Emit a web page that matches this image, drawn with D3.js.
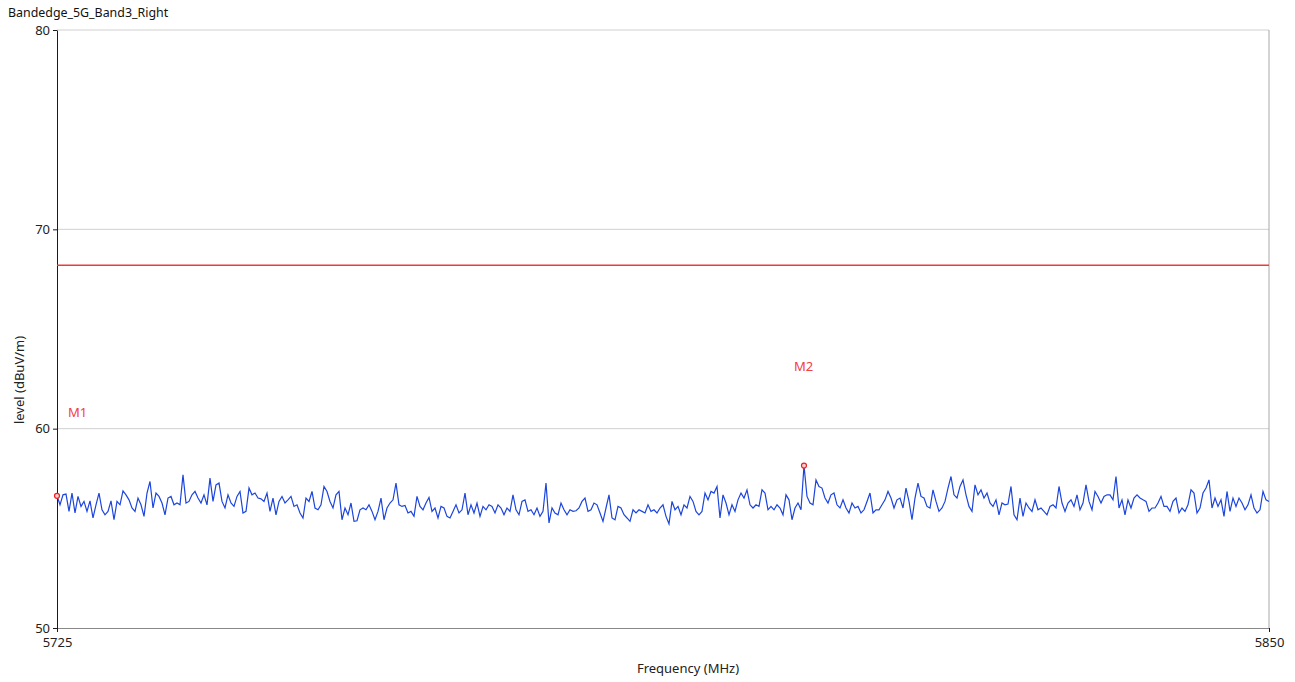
<!DOCTYPE html>
<html>
<head>
<meta charset="utf-8">
<script src="https://cdn.jsdelivr.net/npm/d3@7"></script>
<style>
  body { margin: 0; background: #fff; }
  svg { font-family: "Segoe UI", "Noto Sans", "Open Sans", sans-serif; }
</style>
</head>
<body>
<svg width="1295" height="682"></svg>
<script>
// chart values
const title = "Bandedge_5G_Band3_Right";
const freqRange = [5725, 5850];
const levelRange = [50, 80];
const yTicks = [50, 60, 70, 80];
const xTicks = [5725, 5850];
const limitLevel = 68.2;

// measured trace, evenly spaced from 5725 to 5850 MHz
const traceLevels = [
  56.63,56.18,56.68,56.72,55.85,56.77,55.77,56.60,56.10,56.35,55.85,56.38,55.52,56.18,56.77,55.93,55.68,55.85,56.38,55.43,56.35,56.18,56.88,56.68,56.43,56.02,55.85,56.52,56.18,55.60,56.77,57.35,56.02,56.77,56.60,56.27,55.68,56.52,56.60,56.18,56.27,56.18,57.68,56.27,56.35,
  56.68,56.85,56.52,56.27,56.68,56.18,57.52,56.35,57.18,57.27,56.35,56.02,56.68,56.27,56.10,56.60,56.85,55.77,55.85,57.02,56.68,56.77,56.52,56.48,56.35,56.77,55.85,56.52,55.68,56.35,56.60,56.27,56.43,56.60,56.10,56.18,55.77,55.52,56.52,56.35,56.85,56.02,55.93,56.18,57.10,
  56.85,56.35,56.02,56.68,56.85,55.43,56.02,55.68,56.27,55.35,55.38,55.93,56.02,55.93,56.18,55.85,55.43,55.85,56.52,55.43,56.02,56.27,56.43,57.27,56.18,56.10,56.15,55.77,55.85,55.60,56.60,56.10,55.93,56.27,56.55,55.85,56.02,55.52,56.10,56.02,55.60,55.52,55.85,56.18,55.77,
  55.93,56.77,55.68,56.18,55.77,56.27,55.60,56.10,55.93,56.18,56.10,55.77,56.18,56.02,55.68,56.02,55.85,56.68,55.93,55.68,56.35,56.43,55.85,55.93,55.68,56.02,55.60,55.85,57.27,55.27,56.02,55.77,55.68,56.27,55.93,55.68,55.93,55.85,55.88,56.02,56.35,56.52,55.85,55.93,56.27,
  56.18,55.77,55.35,56.02,56.68,55.52,55.43,56.10,56.02,55.68,55.52,55.35,55.93,55.77,55.93,55.85,55.77,56.18,55.85,55.93,55.77,56.02,56.18,55.60,55.22,56.35,55.93,56.10,55.68,56.18,56.02,56.60,56.35,55.85,55.68,55.85,56.77,56.43,56.85,56.77,57.10,55.52,56.68,56.27,55.68,
  56.18,55.85,56.43,56.77,56.52,56.93,56.18,56.02,56.18,56.10,56.93,56.77,55.93,56.10,55.93,56.18,56.02,55.68,56.68,56.43,55.43,56.02,56.27,55.93,58.15,56.60,56.27,56.18,57.43,57.10,57.02,56.52,56.27,56.68,56.77,56.18,56.02,56.43,56.02,55.77,56.27,56.02,56.10,55.77,55.93,
  56.35,56.77,55.77,55.93,55.93,56.18,56.43,56.85,56.52,56.02,56.43,56.52,56.02,57.02,56.35,55.43,56.52,57.27,56.60,56.52,56.10,56.02,56.93,56.35,55.85,56.02,56.35,57.02,57.60,56.68,56.52,57.10,57.43,56.68,56.10,55.85,57.18,56.68,56.93,56.52,56.77,56.27,56.10,56.43,55.68,
  56.27,56.18,56.22,57.10,55.68,55.43,56.52,55.60,56.27,56.02,55.85,56.43,55.93,56.02,55.85,55.68,56.10,56.18,56.02,57.10,56.27,55.85,56.27,56.43,56.10,56.68,55.93,56.27,57.18,56.35,55.93,56.85,56.60,56.27,56.60,56.68,56.68,56.43,57.60,56.02,56.43,55.68,56.43,56.02,56.52,
  56.68,56.52,56.43,56.35,55.85,56.02,56.02,56.27,56.60,56.10,56.10,55.85,56.35,56.52,55.77,56.02,55.85,56.18,56.93,56.77,55.77,56.02,56.77,57.02,57.43,56.02,56.52,56.10,56.43,55.60,56.85,55.85,56.52,56.10,56.52,56.27,55.93,56.18,56.68,56.02,55.77,55.93,56.85,56.43,56.35
];

const markerNames = ["M1", "M2"];
const markerFreqs = [5725, 5802.04];
const markerLevels = [56.63, 58.15];
const markerLabelLevels = [60.85, 63.15];

const svg = d3.select("svg");
const margin = { left: 57, right: 26, top: 30, bottom: 54 };
const width = +svg.attr("width"), height = +svg.attr("height");
const x = d3.scaleLinear().domain(freqRange).range([margin.left, width - margin.right]);
const y = d3.scaleLinear().domain(levelRange).range([height - margin.bottom, margin.top]);

const step = (freqRange[1] - freqRange[0]) / (traceLevels.length - 1);
const trace = traceLevels.map((v, i) => ({ f: freqRange[0] + i * step, v: v }));

// title
svg.append("text")
    .attr("x", 8).attr("y", 17)
    .attr("font-size", 12.4).attr("fill", "#111")
    .text(title);

// grid
svg.append("g")
    .selectAll("line")
    .data(yTicks.filter(d => d > levelRange[0]))
    .enter().append("line")
    .attr("x1", x.range()[0]).attr("x2", x.range()[1])
    .attr("y1", d => y(d)).attr("y2", d => y(d))
    .attr("stroke", "#d0d0d0").attr("stroke-width", 1);

// right border
svg.append("line")
    .attr("x1", x.range()[1]).attr("x2", x.range()[1])
    .attr("y1", y.range()[0]).attr("y2", y.range()[1])
    .attr("stroke", "#a8a8a8");

// axes
let yAxis = svg.append("g")
    .attr("transform", `translate(${margin.left},0)`)
    .call(d3.axisLeft(y).tickValues(yTicks).tickSize(4).tickPadding(3).tickSizeOuter(0));
let xAxis = svg.append("g")
    .attr("transform", `translate(0,${height - margin.bottom})`)
    .call(d3.axisBottom(x).tickValues(xTicks).tickSize(4).tickPadding(6).tickFormat(d3.format("d")).tickSizeOuter(0));

[yAxis, xAxis].forEach(a => {
    a.select(".domain").attr("stroke", "#1a1a1a");
    a.selectAll(".tick line").attr("stroke", "#1a1a1a");
    a.selectAll(".tick text").attr("font-size", 13).attr("fill", "#222")
        .attr("font-family", "'Segoe UI', 'Noto Sans', 'Open Sans', sans-serif");
});
xAxis.select(".domain").attr("stroke", "#888");

// axis titles
svg.append("text")
    .attr("x", 688).attr("y", 673)
    .attr("text-anchor", "middle").attr("font-size", 13).attr("fill", "#222")
    .text("Frequency (MHz)");
svg.append("text")
    .attr("transform", `translate(24,380) rotate(-90)`)
    .attr("text-anchor", "middle").attr("font-size", 13).attr("fill", "#222")
    .text("level (dBuV/m)");

// limit line
svg.append("line")
    .attr("x1", x.range()[0]).attr("x2", x.range()[1])
    .attr("y1", y(limitLevel)).attr("y2", y(limitLevel))
    .attr("stroke", "#ec3b3b").attr("stroke-width", 1.5);

// trace
let line = d3.line().x(d => x(d.f)).y(d => y(d.v));
svg.append("path")
    .datum(trace)
    .attr("fill", "none")
    .attr("stroke", "#1c45dc")
    .attr("stroke-width", 1.2)
    .attr("d", line);

// markers
let markers = markerNames.map((n, i) => ({ name: n, f: markerFreqs[i], v: markerLevels[i], lv: markerLabelLevels[i] }));
let mk = svg.append("g").selectAll("g").data(markers).enter().append("g");
mk.append("circle")
    .attr("cx", d => x(d.f)).attr("cy", d => y(d.v)).attr("r", 2.5)
    .attr("fill", "#ffd0d0").attr("stroke", "#f02020").attr("stroke-width", 1.2);
mk.append("text")
    .attr("x", d => x(d.f) + (d.name === "M1" ? 11 : -10))
    .attr("y", d => y(d.lv) + 5)
    .attr("font-size", 13).attr("fill", "#f04040")
    .text(d => d.name);
</script>
</body>
</html>
